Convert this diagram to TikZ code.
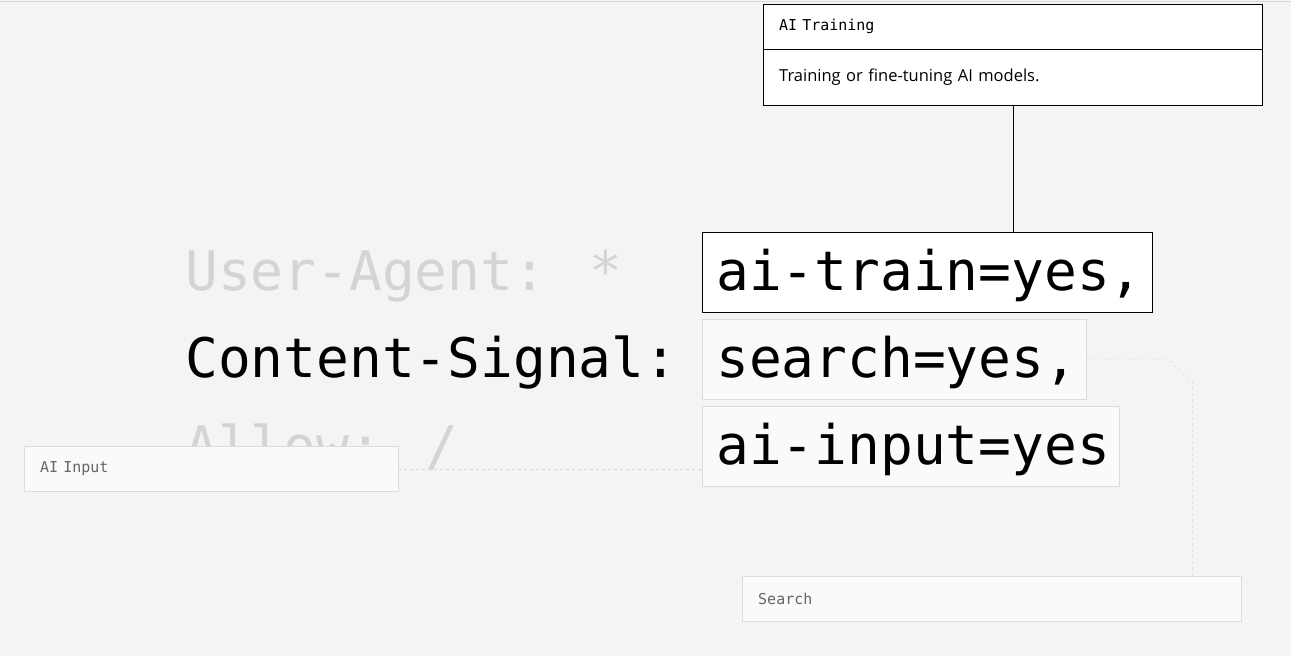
\documentclass[tikz,border=0pt]{standalone}
\usepackage{fontspec}
\setmainfont{Open Sans}
\newfontfamily\codefont{DejaVu Sans Mono}
\usetikzlibrary{positioning}
\definecolor{pagebg}{HTML}{F4F4F4}
\definecolor{boxfill}{HTML}{FAFAFA}
\definecolor{boxline}{HTML}{DCDCDC}
\definecolor{ghost}{HTML}{D4D4D4}
\definecolor{tagtext}{HTML}{666666}
\definecolor{linkgray}{HTML}{D8D8D8}
\begin{document}
\begin{tikzpicture}[
  x=1pt,y=-1pt,
  bigtext/.style={anchor=base west,inner sep=0pt,font=\codefont\fontsize{54.5}{60}\selectfont},
  sigbox/.style={draw=boxline,fill=boxfill,anchor=north west,inner xsep=14pt,inner ysep=0pt,
    minimum height=80pt,text height=45pt,text depth=9pt,text width=#1,align=left,
    font=\codefont\fontsize{54.5}{60}\selectfont},
  tagbox/.style={draw=boxline,fill=boxfill,anchor=north west,inner xsep=16pt,inner ysep=0pt,
    minimum height=45pt,text width=#1,align=left,text=tagtext,font=\codefont\fontsize{15}{18}\selectfont},
  infobox/.style={draw=black,fill=white,inner xsep=16pt,inner ysep=0pt,text width=467pt,align=left},
  link/.style={draw=linkgray,dash pattern=on 3pt off 3pt}
]
\fill[pagebg] (0,0) rectangle (1291,656);
\useasboundingbox (0,0) rectangle (1291,656);
\draw[linkgray] (0,1) -- (1291,1);

% robots.txt lines
\node[bigtext,text=ghost] (agent) at (185,290) {User-Agent: *};
\node[bigtext] (signal) at (185,377) {Content-Signal:};
\node[bigtext,text=ghost] (allow) at (185,465) {Allow: /};

% signal values
\node[sigbox=422pt,draw=black,fill=white] (train) at (702,232) {\mbox{ai-train=yes,}};
\node[sigbox=356pt] (search) at (702,319) {\mbox{search=yes,}};
\node[sigbox=389pt] (input) at (702,406) {\mbox{ai-input=yes}};

% explanation boxes
\node[infobox,anchor=north west,minimum height=45pt,text height=11pt,text depth=3pt,
  font=\codefont\fontsize{15}{18}\selectfont] (trainhead) at (763,4) {AI Training};
\node[infobox,below=0pt of trainhead,minimum height=56pt,font=\fontsize{16.5}{19}\selectfont] (traindesc) {Training or fine-tuning AI models.};
\node[tagbox=342pt] (inputtag) at (24,446) {AI Input};
\node[tagbox=467pt] (searchtag) at (742,576) {Search};

% connectors
\draw (traindesc.south) -- (traindesc.south |- train.north);
\draw[link] (inputtag.east) -- (inputtag.east -| input.west);
\draw[link] (search.east) -- ++(81,0) -- ++(25,23) coordinate (bend) -- (bend |- searchtag.north);
\end{tikzpicture}
\end{document}
